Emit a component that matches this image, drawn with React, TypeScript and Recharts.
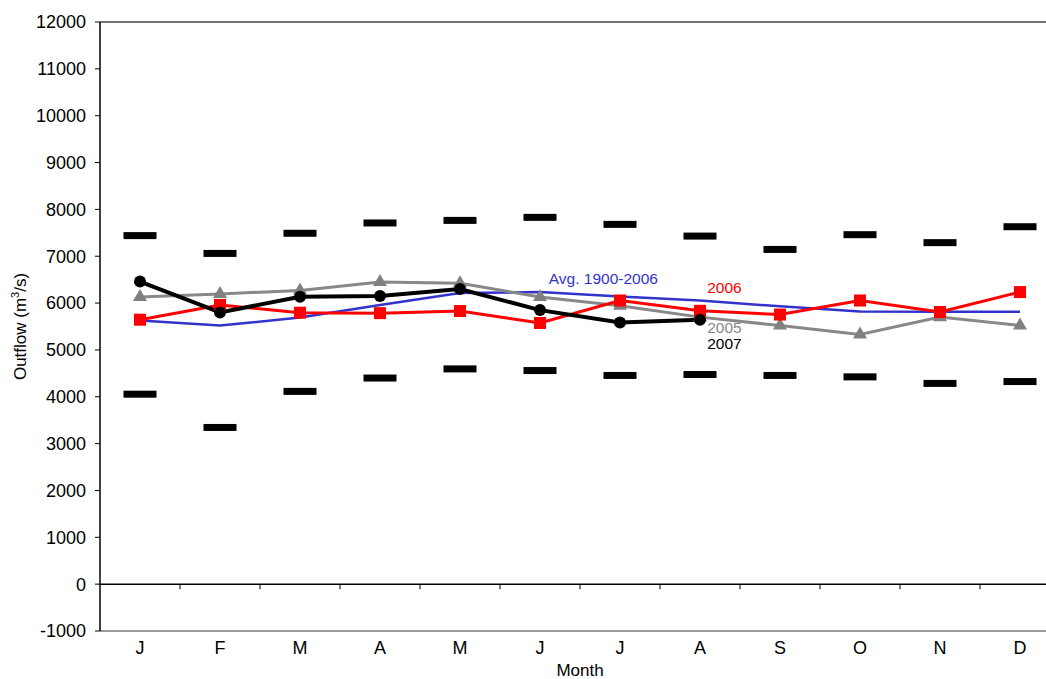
import React from "react";
import {
	ComposedChart,
	Line,
	XAxis,
	YAxis,
	ReferenceLine,
	ReferenceDot,
} from "recharts";

const MONTHS = ["J", "F", "M", "A", "M", "J", "J", "A", "S", "O", "N", "D"];
const Y_TICKS = [-1000, 0, 1000, 2000, 3000, 4000, 5000, 6000, 7000, 8000, 9000, 10000, 11000, 12000];
const X_TICKS = [0.5, 1.5, 2.5, 3.5, 4.5, 5.5, 6.5, 7.5, 8.5, 9.5, 10.5, 11.5];
const BOUNDARIES = [1, 2, 3, 4, 5, 6, 7, 8, 9, 10, 11];

// upper / lower range markers
const HIGH = [7440, 7060, 7490, 7710, 7765, 7830, 7680, 7430, 7145, 7460, 7290, 7630];
const LOW = [4055, 3345, 4115, 4400, 4595, 4560, 4455, 4475, 4455, 4425, 4285, 4325];

const AVG = [5630, 5520, 5690, 5960, 6215, 6235, 6140, 6055, 5930, 5820, 5815, 5815];
const Y2005 = [6130, 6195, 6270, 6450, 6425, 6130, 5945, 5700, 5520, 5330, 5700, 5520];
const Y2006 = [5645, 5960, 5795, 5785, 5830, 5575, 6055, 5835, 5755, 6055, 5810, 6235];
const Y2007 = [6460, 5800, 6135, 6150, 6300, 5850, 5585, 5645, null, null, null, null];

const data = MONTHS.map((m, i) => ({
	x: i + 0.5,
	month: m,
	high: HIGH[i],
	low: LOW[i],
	avg: AVG[i],
	y2005: Y2005[i],
	y2006: Y2006[i],
	y2007: Y2007[i],
}));

const FONT = "'Liberation Sans', Arial, sans-serif";

const DashDot = (props: any) => {
	const { cx, cy } = props;
	if (cx == null || cy == null) return <g />;
	return <rect x={cx - 16.5} y={cy - 3.5} width={33} height={7} fill="#000" />;
};

const SquareDot = (props: any) => {
	const { cx, cy } = props;
	if (cx == null || cy == null) return <g />;
	return <rect x={cx - 6} y={cy - 6} width={12} height={12} fill="#ff0000" />;
};

const TriangleDot = (props: any) => {
	const { cx, cy } = props;
	if (cx == null || cy == null) return <g />;
	return (
		<polygon
			points={`${cx},${cy - 8} ${cx - 7},${cy + 4} ${cx + 7},${cy + 4}`}
			fill="#808080"
		/>
	);
};

const CircleDot = (props: any) => {
	const { cx, cy } = props;
	if (cx == null || cy == null) return <g />;
	return <circle cx={cx} cy={cy} r={6} fill="#000" />;
};

const YTitle = (props: any) => {
	const { viewBox } = props;
	const cy = viewBox.y + viewBox.height / 2;
	return (
		<text
			x={26}
			y={cy}
			transform={`rotate(-90, 26, ${cy})`}
			textAnchor="middle"
			fontSize={17}
			fill="#000"
			fontFamily={FONT}
		>
			Outflow (m
			<tspan dy={-7} fontSize={11}>3</tspan>
			<tspan dy={7}>/s)</tspan>
		</text>
	);
};

const seriesLabel = (value: string, color: string) => ({
	value,
	position: "right" as const,
	offset: 0,
	fill: color,
	fontSize: 15.5,
	fontFamily: FONT,
});

export default function App() {
	return (
		<div
			style={{
				position: "absolute",
				left: 0,
				top: 0,
				width: 1046,
				height: 679,
				overflow: "hidden",
				background: "#fff",
				fontFamily: FONT,
			}}
		>
			<ComposedChart
				width={1070}
				height={679}
				data={data}
				margin={{ top: 22, right: 10, bottom: 0, left: 0 }}
			>
				<XAxis
					dataKey="x"
					type="number"
					domain={[0, 12]}
					ticks={X_TICKS}
					tickFormatter={(v: number) => MONTHS[Math.floor(v)]}
					axisLine={{ stroke: "#777", strokeWidth: 1.5 }}
					tickLine={false}
					tickSize={0}
					tickMargin={10}
					height={48}
					tick={{ fill: "#000", fontSize: 18, fontFamily: FONT }}
					label={{ value: "Month", position: "insideBottom", offset: 3, fill: "#000", fontSize: 17, fontFamily: FONT }}
				/>
				<YAxis
					type="number"
					domain={[-1000, 12000]}
					ticks={Y_TICKS}
					width={100}
					interval={0}
					axisLine={{ stroke: "#000", strokeWidth: 1.5 }}
					tickLine={{ stroke: "#000" }}
					tickSize={5}
					tickMargin={9}
					tick={{ fill: "#000", fontSize: 18, fontFamily: FONT }}
					label={<YTitle />}
				/>
				<ReferenceLine y={12000} stroke="#444" strokeWidth={1.5} />
				<ReferenceLine y={0} stroke="#000" strokeWidth={1.5} />
				{BOUNDARIES.map((b) => (
					<ReferenceLine
						key={b}
						segment={[
							{ x: b, y: 0 },
							{ x: b, y: -110 },
						]}
						stroke="#000"
						strokeWidth={1}
					/>
				))}
				<Line dataKey="high" stroke="none" dot={<DashDot />} activeDot={false} isAnimationActive={false} />
				<Line dataKey="low" stroke="none" dot={<DashDot />} activeDot={false} isAnimationActive={false} />
				<Line dataKey="avg" stroke="#3333cc" strokeWidth={2.5} dot={false} activeDot={false} isAnimationActive={false} />
				<Line dataKey="y2005" stroke="#888888" strokeWidth={3} dot={<TriangleDot />} activeDot={false} isAnimationActive={false} />
				<Line dataKey="y2006" stroke="#ff0000" strokeWidth={3} dot={<SquareDot />} activeDot={false} isAnimationActive={false} />
				<Line dataKey="y2007" stroke="#000" strokeWidth={4} dot={<CircleDot />} activeDot={false} isAnimationActive={false} />
				<ReferenceDot x={5.61} y={6520} r={0} stroke="none" label={seriesLabel("Avg. 1900-2006", "#3333cc")} />
				<ReferenceDot x={7.59} y={6330} r={0} stroke="none" label={seriesLabel("2006", "#ff0000")} />
				<ReferenceDot x={7.59} y={5485} r={0} stroke="none" label={seriesLabel("2005", "#888888")} />
				<ReferenceDot x={7.59} y={5145} r={0} stroke="none" label={seriesLabel("2007", "#000")} />
			</ComposedChart>
		</div>
	);
}
